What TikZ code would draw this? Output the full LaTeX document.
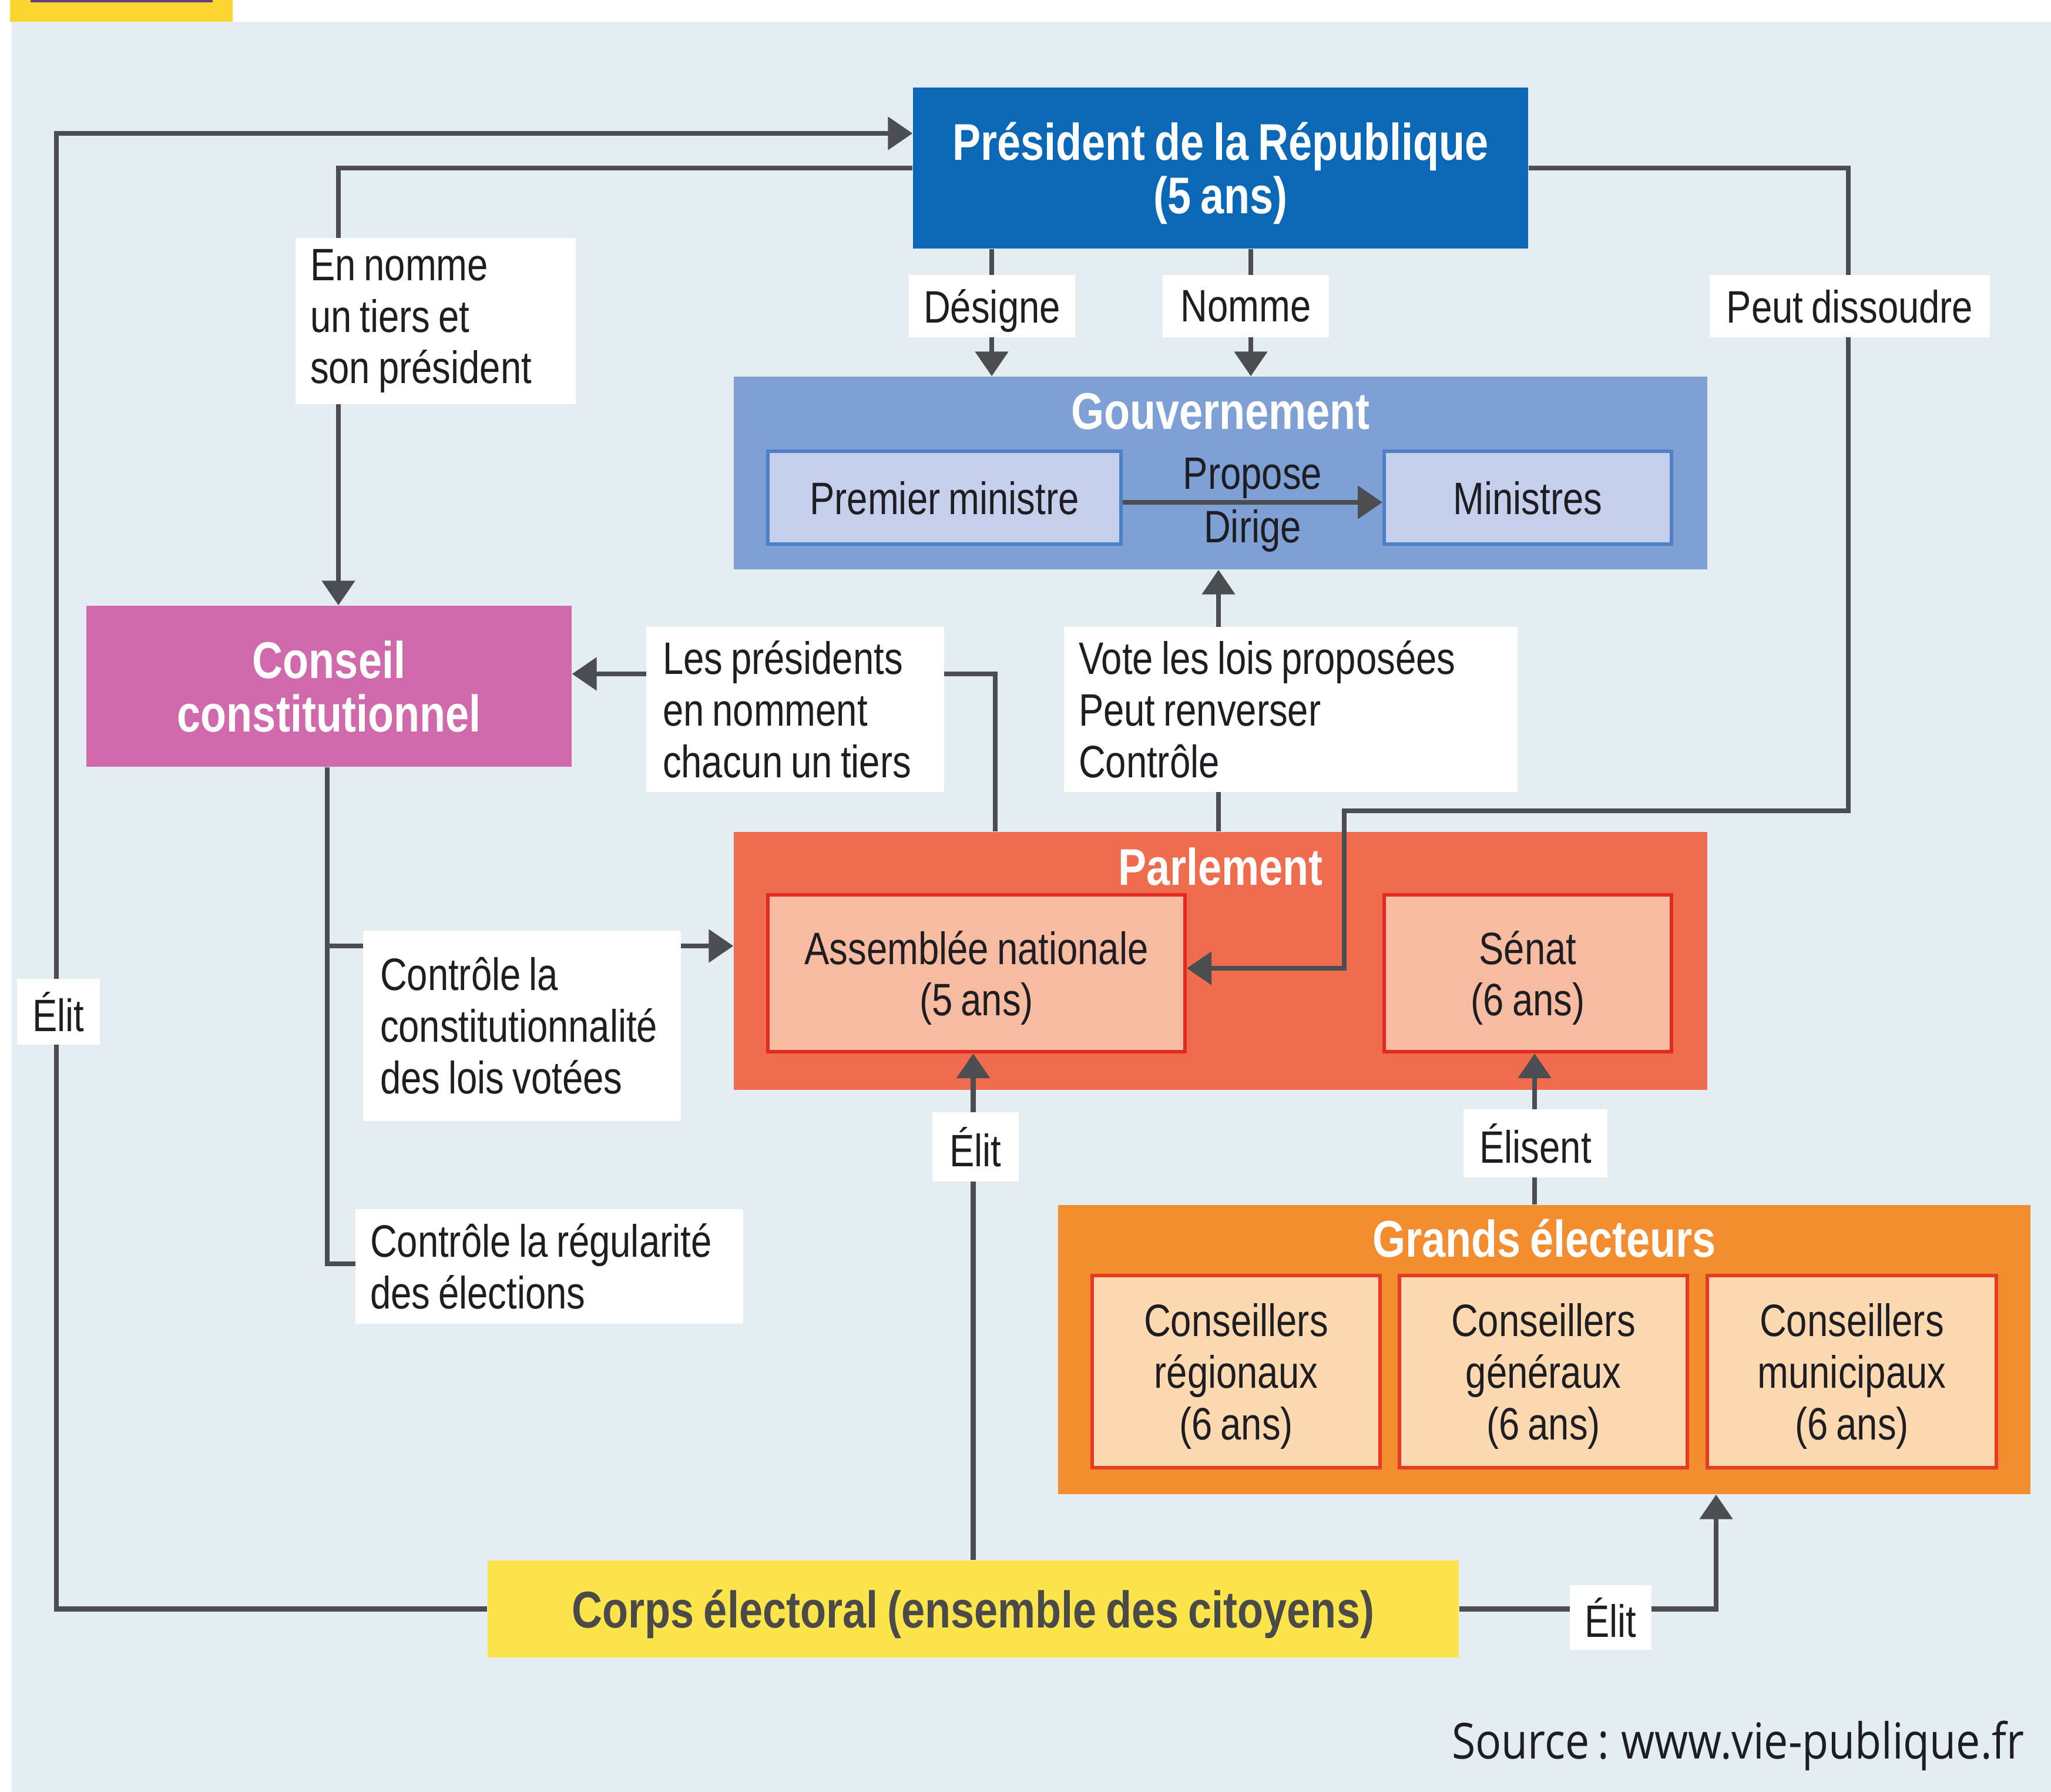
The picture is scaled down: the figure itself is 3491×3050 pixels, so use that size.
\documentclass[tikz,border=0pt]{standalone}
\usepackage{fontspec}
\setmainfont{Liberation Sans}[FakeStretch=0.82, WordSpace=0.8]
\newfontfamily\srcfont{Open Sans}[FakeStretch=0.87, WordSpace=0.75]
\usepackage{xcolor}
\definecolor{bgblue}{HTML}{E4EDF2}
\definecolor{presblue}{HTML}{0A68B6}
\definecolor{gouvblue}{HTML}{7FA0D5}
\definecolor{pmfill}{HTML}{C5CEEA}
\definecolor{pmline}{HTML}{4D80C6}
\definecolor{ccpink}{HTML}{D06AAC}
\definecolor{parlred}{HTML}{EF6C4F}
\definecolor{anfill}{HTML}{F6BBA1}
\definecolor{anline}{HTML}{E22B20}
\definecolor{georange}{HTML}{F28E2F}
\definecolor{gefill}{HTML}{FCD9B0}
\definecolor{geline}{HTML}{E83A22}
\definecolor{corpsyellow}{HTML}{FBE54B}
\definecolor{corpsgray}{HTML}{4A4A4A}
\definecolor{linegray}{HTML}{4B4D50}
\definecolor{ink}{HTML}{1E1E22}
\definecolor{headyellow}{HTML}{FCD530}
\definecolor{headpurple}{HTML}{6B3D84}
\usepackage{tikz}
\usetikzlibrary{arrows.meta, positioning, calc}

\begin{document}
\begin{tikzpicture}[
        x=0.1mm, y=-0.1mm,
        font=\fontsize{22}{25}\selectfont,
        chief/.style={rectangle, inner sep=0pt, align=center, text depth=0pt, text=white, font=\fontsize{25}{26}\selectfont\bfseries},
        group/.style={rectangle, inner sep=0pt},
        grouptitle/.style={text=white, inner sep=0pt, font=\fontsize{25}{26}\selectfont\bfseries},
        unit/.style={rectangle, inner sep=0pt, align=center, text depth=0pt, line width=0.6mm, text=ink},
        tag/.style={rectangle, fill=white, text=ink, inner ysep=0pt, inner xsep=2.5mm, align=flush left},
        shorttag/.style={tag, align=center, inner xsep=0pt, text depth=0pt},
        wire/.style={draw=linegray, line width=0.85mm},
        feed/.style={wire, -{Triangle[length=4.2mm, width=5.5mm]}}
    ]
        \useasboundingbox (0,0) rectangle (3491,3050);
        \fill[white] (0,0) rectangle (3491,3050);
        \fill[bgblue] (20,37) rectangle (3491,3050);
        % cut header
        \fill[headyellow] (17,0) rectangle (396,37);
        \fill[headpurple] (52,0) rectangle (362,4);

        % Président
        \node[chief, fill=presblue, minimum width=104.7mm, minimum height=27.4mm] (pres) at (2077.5,286) {Président de la République\\(5 ans)};

        % Gouvernement
        \node[group, fill=gouvblue, minimum width=165.7mm, minimum height=32.8mm] (gouv) at (2077.5,805) {};
        \node[grouptitle] (gouvt) at ($(gouv.north)+(0,60)$) {Gouvernement};
        \node[unit, fill=pmfill, draw=pmline, minimum width=60.1mm, minimum height=15.8mm] (pm) at (1607.5,847) {Premier ministre};
        \node[unit, fill=pmfill, draw=pmline, minimum width=48.9mm, minimum height=15.8mm] (min) at (2600.5,847) {Ministres};

        % Conseil constitutionnel
        \node[chief, fill=ccpink, minimum width=82.6mm, minimum height=27.4mm] (cc) at (560,1168) {Conseil\\constitutionnel};

        % Parlement
        \node[group, fill=parlred, minimum width=165.7mm, minimum height=43.9mm] (parl) at (2077.5,1635.5) {};
        \node[grouptitle] (parlt) at ($(parl.north)+(0,60)$) {Parlement};
        \node[unit, fill=anfill, draw=anline, minimum width=71mm, minimum height=26.7mm] (an) at (1662,1656.5) {Assemblée nationale\\(5 ans)};
        \node[unit, fill=anfill, draw=anline, minimum width=48.9mm, minimum height=26.7mm] (sen) at (2600.5,1656.5) {Sénat\\(6 ans)};

        % Grands électeurs
        \node[group, fill=georange, minimum width=165.5mm, minimum height=49.2mm] (ge) at (2628.5,2297) {};
        \node[grouptitle] (get) at ($(ge.north)+(0,57)$) {Grands électeurs};
        \node[unit, fill=gefill, draw=geline, minimum width=49mm, minimum height=32.7mm] (creg) at (2104,2334.5) {Conseillers\\régionaux\\(6 ans)};
        \node[unit, fill=gefill, draw=geline, minimum width=49mm, minimum height=32.7mm] (cgen) at (2627,2334.5) {Conseillers\\généraux\\(6 ans)};
        \node[unit, fill=gefill, draw=geline, minimum width=49.2mm, minimum height=32.7mm] (cmun) at (3152,2334.5) {Conseillers\\municipaux\\(6 ans)};

        % Corps électoral
        \node[chief, fill=corpsyellow, text=corpsgray, minimum width=165.3mm, minimum height=16.5mm] (corps) at (1656.5,2738.5) {Corps électoral (ensemble des citoyens)};

        % Links
        \coordinate (elittop) at (96,227);
        \coordinate (dissR) at (3146,1380);
        \coordinate (dissM) at (2288,1648);
        \coordinate (regend) at (640,2151);
        \coordinate (constfork) at (557,1610);

        \draw[feed] (corps.west) -| (elittop) -- (elittop -| pres.west);
        \draw[feed] (pres.west) -| ([xshift=1.6mm]cc.north);
        \draw[feed] ([xshift=-38.95mm]pres.south) -- ([xshift=-38.95mm]gouv.north);
        \draw[feed] ([xshift=5.15mm]pres.south) -- ([xshift=5.15mm]gouv.north);
        \draw[feed] (pres.east) -| (dissR) -| (dissM) -- (dissM -| an.east);
        \draw[feed] ([yshift=-0.8mm]pm.east) -- node[above, inner sep=0.2mm, text=ink] {Propose} node[below, inner sep=0.8mm, text=ink] {Dirige} ([yshift=-0.8mm]min.west);
        \draw[feed] ([xshift=-38.35mm]parl.north) |- ([yshift=2.1mm]cc.east);
        \draw[feed] ([xshift=-0.35mm]parl.north) -- ([xshift=-0.35mm]gouv.south);
        \draw[wire] ([xshift=-0.3mm]cc.south) |- (regend);
        \draw[feed] (constfork) -- (constfork -| parl.west);
        \draw[feed] (corps.north) -- (corps.north |- an.south);
        \draw[feed] ([xshift=-1.65mm]ge.north) -- ([xshift=-1.65mm]ge.north |- sen.south);
        \draw[feed] (corps.east) -| ([xshift=29.25mm]ge.south);

        % Labels
        \node[tag, text width=42.7mm, minimum height=28.3mm] (tnomme) at (741.5,546.5) {En nomme\\un tiers et\\son président};
        \node[shorttag, minimum width=28.3mm, minimum height=10.6mm] (tdes) at (1688.5,521) {Désigne};
        \node[shorttag, minimum width=28.3mm, minimum height=10.6mm] (tnom) at (2120.5,521) {Nomme};
        \node[shorttag, minimum width=47.7mm, minimum height=10.6mm] (tdis) at (3148.5,521) {Peut dissoudre};
        \node[tag, inner xsep=2.8mm, text width=45.1mm, minimum height=28.1mm] (tpres) at (1353.5,1207.5) {Les présidents\\en nomment\\chacun un tiers};
        \node[tag, text width=72.2mm, minimum height=28.1mm] (tvote) at (2197,1207.5) {Vote les lois proposées\\Peut renverser\\Contrôle};
        \node[tag, inner xsep=2.9mm, text width=48.3mm, minimum height=32.4mm] (tconst) at (888.5,1746) {Contrôle la\\constitutionnalité\\des lois votées};
        \node[tag, text width=61mm, minimum height=19.5mm] (treg) at (935,2155.5) {Contrôle la régularité\\des élections};
        \node[shorttag, minimum width=14.1mm, minimum height=11.2mm] (telita) at (99.5,1722) {Élit};
        \node[shorttag, minimum width=14.7mm, minimum height=11.8mm] (telitb) at (1660.5,1952) {Élit};
        \node[shorttag, minimum width=24.5mm, minimum height=11.6mm] (telis) at (2613.5,1946) {Élisent};
        \node[shorttag, minimum width=13.9mm, minimum height=11mm] (telitc) at (2741.5,2753) {Élit};

        % Source
        \node[anchor=base east, inner sep=0pt, text=ink, font=\srcfont\fontsize{24}{26}\selectfont] (src) at (3446,2993) {Source : www.vie-publique.fr};
\end{tikzpicture}
\end{document}
